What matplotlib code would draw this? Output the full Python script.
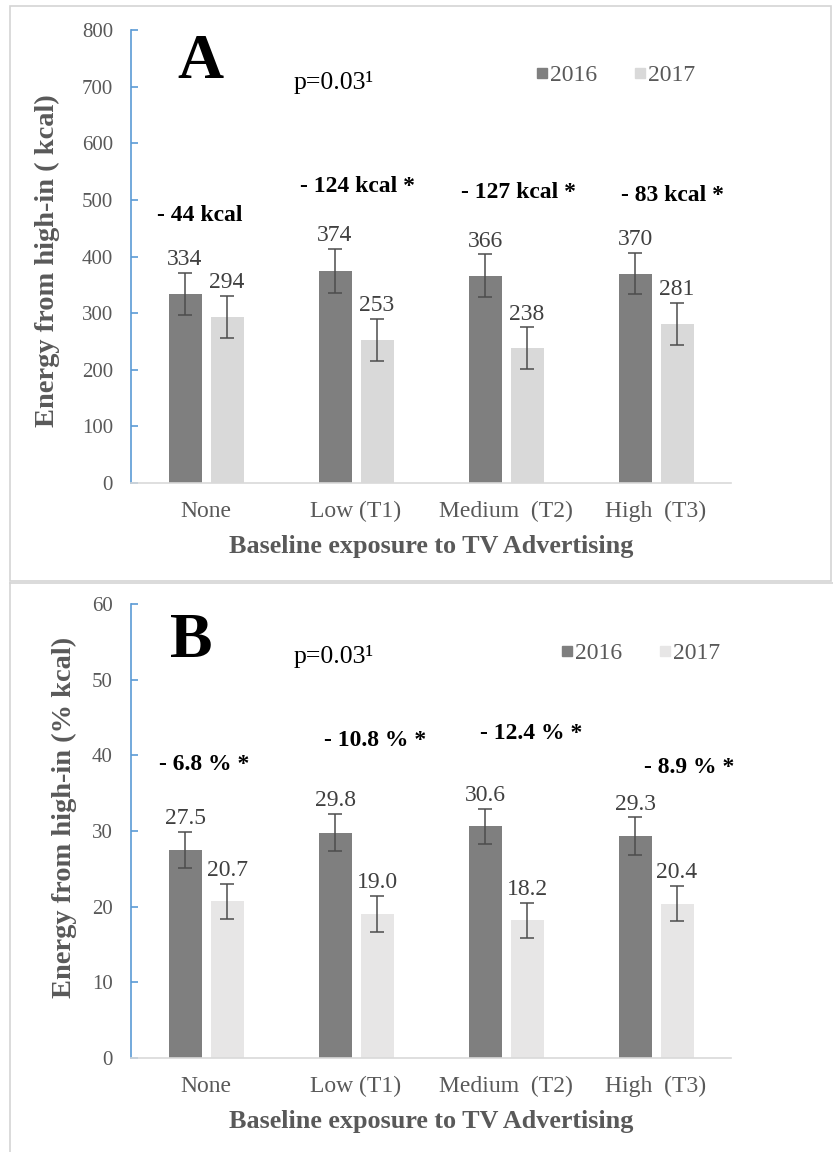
import matplotlib
matplotlib.use("Agg")
import matplotlib.pyplot as plt
from matplotlib.lines import Line2D
from matplotlib.patches import Rectangle
import numpy as np

plt.rcParams['font.family'] = ['Liberation Serif', 'DejaVu Serif']

categories = ["None", "Low (T1)", "Medium  (T2)", "High  (T3)"]
years = ["2016", "2017"]

# panel A: kcal
kcal_2016 = [334, 374, 366, 370]
kcal_2017 = [294, 253, 238, 281]
kcal_err_2016 = [37, 39, 38, 37]
kcal_err_2017 = [37, 37, 37, 37]
kcal_diff = ["- 44 kcal", "- 124 kcal *", "- 127 kcal *", "- 83 kcal *"]

# panel B: % kcal
pct_2016 = [27.5, 29.8, 30.6, 29.3]
pct_2017 = [20.7, 19.0, 18.2, 20.4]
pct_err_2016 = [2.4, 2.5, 2.3, 2.5]
pct_err_2017 = [2.3, 2.4, 2.3, 2.3]
pct_diff = ["- 6.8 % *", "- 10.8 % *", "- 12.4 % *", "- 8.9 % *"]

# layout only (where the difference notes sit)
kcal_note_x = [-0.04, 1.01, 2.08, 3.11]
kcal_note_y = [473, 523, 513, 507]
pct_note_x = [-0.01, 1.13, 2.17, 3.22]
pct_note_y = [38.8, 42.0, 42.9, 38.4]

DARK = "#7f7f7f"
GREY_TXT = "#595959"
AXIS_BLUE = "#5b9bd5"

fig = plt.figure(figsize=(8.33, 11.52), dpi=100)

# panel frames
fig.add_artist(Rectangle((0.012, 0.4957), 0.9856, 0.4991, transform=fig.transFigure,
                         fill=False, edgecolor="#d4d4d4", lw=1.2))
fig.add_artist(Line2D([0.012, 0.012], [0.0, 0.494], transform=fig.transFigure, color="#d4d4d4", lw=1.2))
fig.add_artist(Line2D([0.012, 1.0], [0.494, 0.494], transform=fig.transFigure, color="#d4d4d4", lw=1.2))


def panel(ax, v16, v17, e16, e17, light, ymax, step, fmt, letter, ylabel,
          notes, note_x, note_y, letter_xy, p_xy, leg_xy, ylab_xy):
    x = np.arange(len(categories))
    off = 0.14
    w = 0.22
    ekw = dict(ecolor="#4d4d4d", elinewidth=1.1, capsize=5, capthick=1.1)
    ax.bar(x - off, v16, w, color=DARK, yerr=e16, error_kw=ekw, label=years[0], zorder=2)
    ax.bar(x + off, v17, w, color=light, yerr=e17, error_kw=ekw, label=years[1], zorder=2)

    for xi, v, e in zip(x - off, v16, e16):
        ax.annotate(fmt.format(v), (xi, v + e), xytext=(0, 2), textcoords="offset points",
                    ha="center", va="bottom", fontsize=17, color="#404040")
    for xi, v, e in zip(x + off, v17, e17):
        ax.annotate(fmt.format(v), (xi, v + e), xytext=(0, 2), textcoords="offset points",
                    ha="center", va="bottom", fontsize=17, color="#404040")

    for t, nx, ny in zip(notes, note_x, note_y):
        ax.text(nx, ny, t, ha="center", va="center", fontsize=17, fontweight="bold", color="black")

    ax.text(letter_xy[0], letter_xy[1], letter, ha="center", va="center", fontsize=46,
            fontweight="bold", color="black")
    ax.text(p_xy[0], p_xy[1], "p=0.03¹", ha="left", va="center", fontsize=18.5, color="black")

    ax.set_xlim(-0.5, len(categories) - 0.5)
    ax.set_ylim(0, ymax)
    ax.set_yticks(np.arange(0, ymax + step / 2, step))
    ax.set_xticks(x)
    ax.set_xticklabels(categories)

    for s in ["top", "right"]:
        ax.spines[s].set_visible(False)
    ax.spines["left"].set_color(AXIS_BLUE)
    ax.spines["left"].set_linewidth(1.2)
    ax.spines["bottom"].set_color("#d9d9d9")
    ax.spines["bottom"].set_linewidth(1.2)
    ax.tick_params(axis="y", direction="in", length=5, width=1.2, color=AXIS_BLUE,
                   labelsize=15, labelcolor=GREY_TXT, pad=13)
    ax.tick_params(axis="x", length=0, labelsize=17, labelcolor=GREY_TXT, pad=13)

    ax.set_xlabel("Baseline exposure to TV Advertising", fontsize=18.8, fontweight="bold",
                  color=GREY_TXT, labelpad=9)
    ax.set_ylabel(ylabel, fontsize=20.5, fontweight="bold", color=GREY_TXT)
    ax.yaxis.set_label_coords(*ylab_xy)

    h = [Line2D([], [], marker="s", ls="", markersize=7, color=DARK),
         Line2D([], [], marker="s", ls="", markersize=7, color=light)]
    ax.legend(h, years, loc="center", bbox_to_anchor=leg_xy, ncol=2, frameon=False,
              fontsize=17, handletextpad=0.05, columnspacing=1.5, handlelength=0.6,
              labelcolor=GREY_TXT)


axA = fig.add_axes([0.1573, 0.5807, 0.7203, 0.3932])
panel(axA, kcal_2016, kcal_2017, kcal_err_2016, kcal_err_2017, "#d9d9d9", 800, 100, "{:d}",
      "A", "Energy from high-in ( kcal)", kcal_diff, kcal_note_x, kcal_note_y,
      (-0.04, 742), (0.587, 708), (0.807, 0.9), (-0.118, 0.49))

axB = fig.add_axes([0.1573, 0.0816, 0.7203, 0.3941])
panel(axB, pct_2016, pct_2017, pct_err_2016, pct_err_2017, "#e7e6e6", 60, 10, "{:.1f}",
      "B", "Energy from high-in (% kcal)", pct_diff, pct_note_x, pct_note_y,
      (-0.1, 55.0), (0.587, 53.0), (0.848, 0.892), (-0.09, 0.53))

fig.savefig("out.png", dpi=100)
